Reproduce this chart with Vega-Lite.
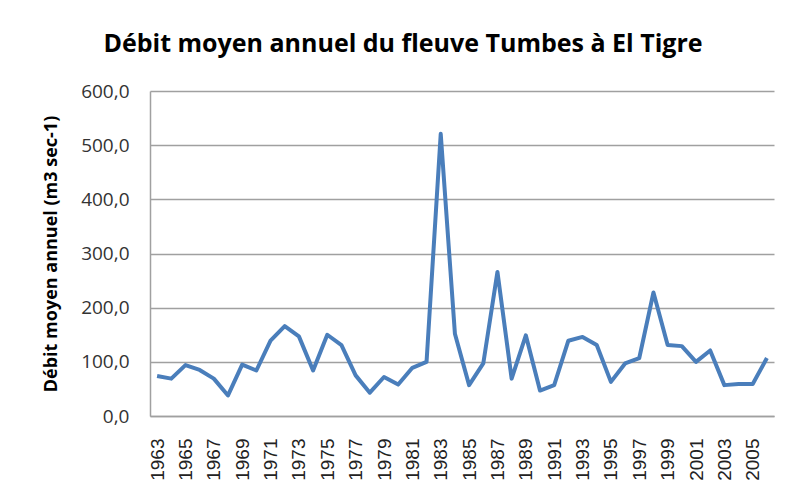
{
  "$schema": "https://vega.github.io/schema/vega-lite/v6.json",
  "autosize": "none",
  "width": 624,
  "height": 325,
  "padding": {"left": 150, "top": 91, "right": 11, "bottom": 83},
  "background": "white",
  "title": {
    "text": "Débit moyen annuel du fleuve Tumbes à El Tigre",
    "font": "Open Sans",
    "fontSize": 25,
    "fontWeight": "bold",
    "color": "#000000",
    "anchor": "middle",
    "offset": 25,
    "dx": -59
  },
  "data": {
    "values": [
      {"year": 1963, "q": 74}, {"year": 1964, "q": 69}, {"year": 1965, "q": 94},
      {"year": 1966, "q": 85}, {"year": 1967, "q": 69}, {"year": 1968, "q": 38},
      {"year": 1969, "q": 95}, {"year": 1970, "q": 84}, {"year": 1971, "q": 139},
      {"year": 1972, "q": 166}, {"year": 1973, "q": 147}, {"year": 1974, "q": 84},
      {"year": 1975, "q": 150}, {"year": 1976, "q": 131}, {"year": 1977, "q": 75},
      {"year": 1978, "q": 43}, {"year": 1979, "q": 72}, {"year": 1980, "q": 58},
      {"year": 1981, "q": 89}, {"year": 1982, "q": 100}, {"year": 1983, "q": 521},
      {"year": 1984, "q": 152}, {"year": 1985, "q": 57}, {"year": 1986, "q": 97},
      {"year": 1987, "q": 266}, {"year": 1988, "q": 69}, {"year": 1989, "q": 149},
      {"year": 1990, "q": 47}, {"year": 1991, "q": 57}, {"year": 1992, "q": 139},
      {"year": 1993, "q": 146}, {"year": 1994, "q": 131}, {"year": 1995, "q": 63},
      {"year": 1996, "q": 97}, {"year": 1997, "q": 107}, {"year": 1998, "q": 228},
      {"year": 1999, "q": 131}, {"year": 2000, "q": 129}, {"year": 2001, "q": 100},
      {"year": 2002, "q": 121}, {"year": 2003, "q": 57}, {"year": 2004, "q": 59},
      {"year": 2005, "q": 59}, {"year": 2006, "q": 107}
    ]
  },
  "mark": {"type": "line", "color": "#4A7EBB", "strokeWidth": 4, "strokeJoin": "round"},
  "encoding": {
    "x": {
      "field": "year",
      "type": "ordinal",
      "scale": {"type": "point", "padding": 0.5},
      "axis": {
        "title": null,
        "labelAngle": -90,
        "labelAlign": "right",
        "labelBaseline": "middle",
        "labelFont": "Liberation Sans",
        "labelFontSize": 19,
        "labelColor": "#222222",
        "labelPadding": 22,
        "labelExpr": "datum.value % 2 == 1 ? datum.label : ''",
        "ticks": false,
        "domainColor": "#A0A0A0",
        "domainWidth": 1.5,
        "grid": false,
        "labelOverlap": false
      }
    },
    "y": {
      "field": "q",
      "type": "quantitative",
      "scale": {"domain": [0, 600], "nice": false},
      "axis": {
        "title": "Débit moyen annuel (m3 sec-1)",
        "titleFont": "Open Sans",
        "titleFontSize": 18,
        "titleFontWeight": "bold",
        "titleColor": "#000000",
        "titlePadding": 20,
        "values": [0, 100, 200, 300, 400, 500, 600],
        "labelExpr": "replace(format(datum.value, '.1f'), '.', ',')",
        "labelFont": "Open Sans",
        "labelFontSize": 19,
        "labelColor": "#333333",
        "labelPadding": 21,
        "ticks": false,
        "domainColor": "#A0A0A0",
        "domainWidth": 1.5,
        "grid": true,
        "gridColor": "#A0A0A0",
        "gridWidth": 1.5
      }
    }
  },
  "config": {"view": {"stroke": null}}
}
